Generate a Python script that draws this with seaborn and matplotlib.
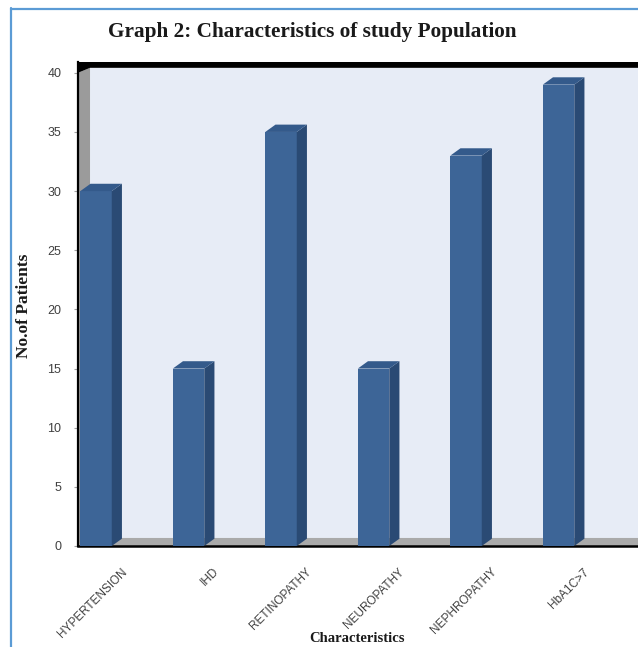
import matplotlib
matplotlib.use("Agg")
import matplotlib.pyplot as plt
import matplotlib.transforms as mtransforms
from matplotlib.patches import Polygon, Rectangle
from matplotlib.lines import Line2D
import seaborn as sns

categories = ["HYPERTENSION", "IHD", "RETINOPATHY", "NEUROPATHY", "NEPHROPATHY", "HbA1C>7"]
patients = [30, 15, 35, 15, 33, 39]
y_ticks = [0, 5, 10, 15, 20, 25, 30, 35, 40]

FRONT = "#3d6597"
SIDE = "#2a4a74"
TOP = "#345a8b"
WALL_BACK = "#e7ecf6"
WALL_SIDE = "#9b9b9b"
FLOOR = "#aaaaaa"
FRAME = "#5b9bd5"

sns.set_style("white")
plt.rcParams["font.family"] = ["Liberation Sans", "DejaVu Sans"]

fig = plt.figure(figsize=(6.38, 6.47), dpi=100)
ax = fig.add_axes([78 / 638, 101 / 647, 560 / 638, 484.2 / 647])

sns.barplot(x=categories, y=patients, color=FRONT, saturation=1, width=0.34,
            linewidth=0, edgecolor=FRONT, ax=ax, zorder=3)

xmin, xmax = -0.195, 5.859
ymax_axis = 40.93
ax.set_xlim(xmin, xmax)
ax.set_ylim(0, ymax_axis)

# pseudo-3D depth offsets (data units)
bdx, bdy = 0.11, 0.62
wdx, wdy_floor, wdy_top = 0.13, 0.68, 0.42

# extrude each bar: right side face and top face
for p in list(ax.patches):
    x0, w, h = p.get_x(), p.get_width(), p.get_height()
    ax.add_patch(Polygon([(x0 + w, 0), (x0 + w + bdx, bdy), (x0 + w + bdx, h + bdy), (x0 + w, h)],
                         closed=True, facecolor=SIDE, edgecolor="none", zorder=3))
    ax.add_patch(Polygon([(x0, h), (x0 + bdx, h + bdy), (x0 + w + bdx, h + bdy), (x0 + w, h)],
                         closed=True, facecolor=TOP, edgecolor="none", zorder=3))

# walls and floor of the chart box
far = xmax + 1
ax.add_patch(Rectangle((xmin + wdx, wdy_floor), far - xmin, 40 + wdy_top - wdy_floor,
                       facecolor=WALL_BACK, edgecolor="none", zorder=0.5))
ax.add_patch(Polygon([(xmin, 0), (xmin + wdx, wdy_floor), (xmin + wdx, 40 + wdy_top), (xmin, 40)],
                     closed=True, facecolor=WALL_SIDE, edgecolor="none", zorder=0.6))
ax.add_patch(Polygon([(xmin, 0), (xmin + wdx, wdy_floor), (far, wdy_floor), (far, 0)],
                     closed=True, facecolor=FLOOR, edgecolor="none", zorder=0.6))
ax.add_patch(Polygon([(xmin, 40), (xmin + wdx, 40 + wdy_top), (far, 40 + wdy_top),
                      (far, ymax_axis + 1), (xmin, ymax_axis + 1)],
                     closed=True, facecolor="black", edgecolor="none", zorder=0.7))

ax.set_facecolor("white")
ax.grid(False)
for s in ["top", "right"]:
    ax.spines[s].set_visible(False)
ax.spines["left"].set_color("black")
ax.spines["left"].set_linewidth(1.6)
ax.spines["bottom"].set_color("black")
ax.spines["bottom"].set_linewidth(1.8)

ax.set_yticks(y_ticks)
ax.set_yticklabels([str(v) for v in y_ticks])
ax.tick_params(axis="y", left=True, length=3, width=0.8, color="#a0a0a0",
               labelsize=9, labelcolor="#404040", pad=9)
ax.tick_params(axis="x", bottom=False, labelbottom=False)
ax.set_xlabel("")
ax.set_ylabel("")

# rotated category labels, anchored at their right end
blend = mtransforms.blended_transform_factory(ax.transData, ax.transAxes)
shift = mtransforms.ScaledTranslation(0.29, -0.24, fig.dpi_scale_trans)
for i, name in enumerate(categories):
    ax.text(i, 0, name, transform=blend + shift, rotation=45, rotation_mode="anchor",
            ha="right", va="center", fontsize=8.5, color="#404040")

fig.text(312 / 638, 1 - 32 / 647, "Graph 2: Characteristics of study Population",
         ha="center", va="center", fontsize=15.3, fontweight="bold",
         family="Liberation Serif", color="#1a1a1a")
fig.text(24 / 638, 1 - 306 / 647, "No.of Patients", rotation=90, ha="center", va="center",
         fontsize=12.5, fontweight="bold", family="Liberation Serif", color="#1a1a1a")
fig.text(357 / 638, 1 - 638 / 647, "Characteristics", ha="center", va="center",
         fontsize=10.5, fontweight="bold", family="Liberation Serif", color="#1a1a1a")

# outer frame lines
fig.add_artist(Line2D([11 / 638, 11 / 638], [0, 1 - 8 / 647], transform=fig.transFigure,
                      color=FRAME, linewidth=1.6))
fig.add_artist(Line2D([11 / 638, 1], [1 - 9 / 647, 1 - 9 / 647], transform=fig.transFigure,
                      color=FRAME, linewidth=1.6))

fig.savefig("out.png", dpi=100)
